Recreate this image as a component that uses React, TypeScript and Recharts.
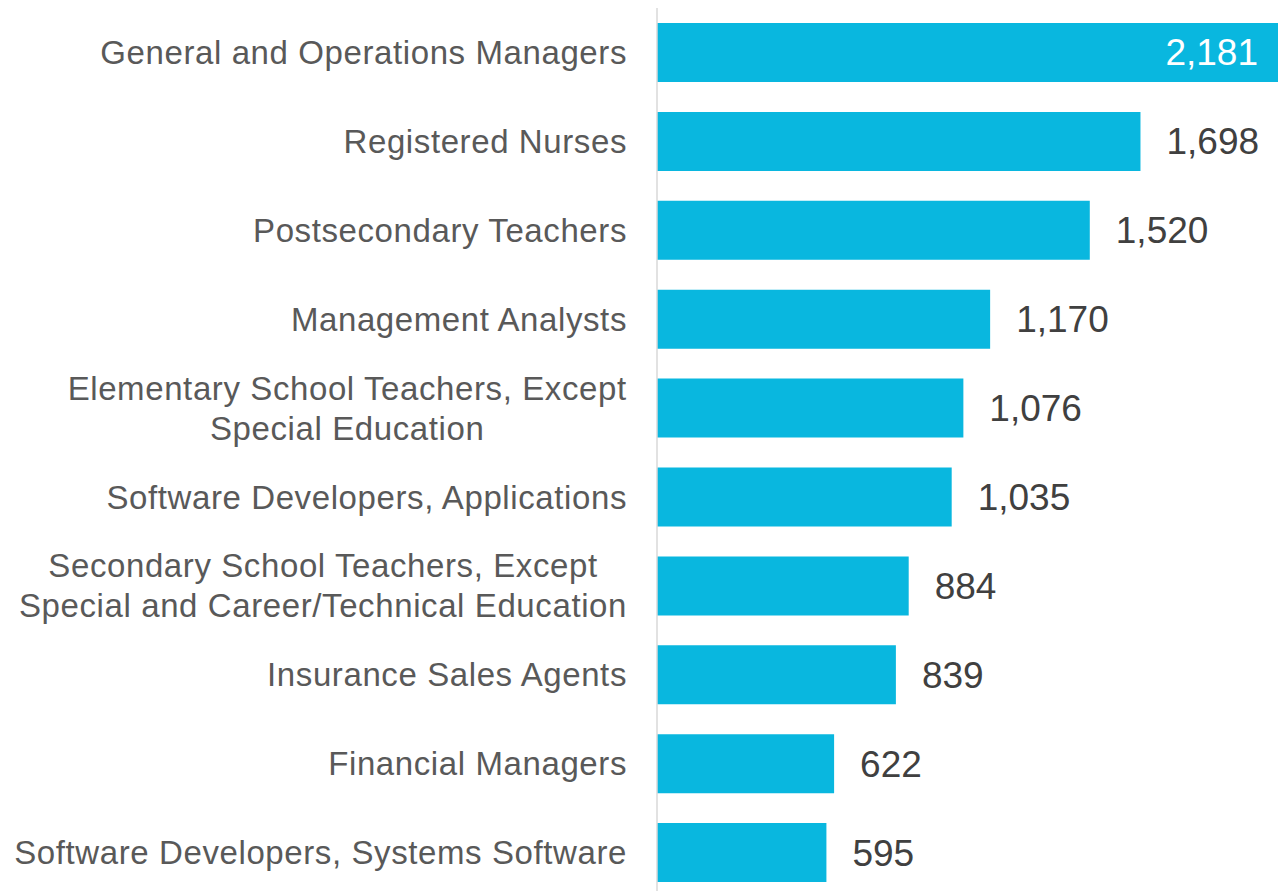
import { BarChart, Bar, XAxis, YAxis, LabelList } from "recharts";

// Occupations, top to bottom ("\n" marks a line break in the axis label)
const occupations = [
  "General and Operations Managers",
  "Registered Nurses",
  "Postsecondary Teachers",
  "Management Analysts",
  "Elementary School Teachers, Except\nSpecial Education",
  "Software Developers, Applications",
  "Secondary School Teachers, Except\nSpecial and Career/Technical Education",
  "Insurance Sales Agents",
  "Financial Managers",
  "Software Developers, Systems Software",
];

const counts = [2181, 1698, 1520, 1170, 1076, 1035, 884, 839, 622, 595];

const data = occupations.map((name, i) => ({ name, count: counts[i] }));

const FONT = "'Liberation Sans', Arial, sans-serif";
const BAR_COLOR = "#09B7DF";
const TICK_SIZE = 33;
const TICK_SPACING = 0.6;

let measureCtx: CanvasRenderingContext2D | null = null;
function textWidth(text: string) {
  if (!measureCtx) measureCtx = document.createElement("canvas").getContext("2d");
  if (!measureCtx) return text.length * TICK_SIZE * 0.5;
  measureCtx.font = `${TICK_SIZE}px ${FONT}`;
  return measureCtx.measureText(text).width + text.length * TICK_SPACING;
}

function CategoryTick(props: any) {
  const { x, y, payload } = props;
  const lines: string[] = String(payload.value).split("\n");
  const common = {
    fill: "#595959",
    fontSize: TICK_SIZE,
    fontFamily: FONT,
    letterSpacing: TICK_SPACING,
  };
  if (lines.length === 1) {
    return (
      <text x={x} y={y} dy="0.35em" textAnchor="end" {...common}>
        {lines[0]}
      </text>
    );
  }
  // multi-line labels: block is right aligned, lines centred inside it
  const w = Math.max(...lines.map((l) => textWidth(l)));
  const cx = x - w / 2;
  const lh = 40;
  const top = y - ((lines.length - 1) * lh) / 2;
  return (
    <text textAnchor="middle" {...common}>
      {lines.map((l, i) => (
        <tspan key={i} x={cx} y={top + i * lh} dy="0.35em">
          {l}
        </tspan>
      ))}
    </text>
  );
}

function ValueLabel(props: any) {
  const { x, y, width, height, value, index } = props;
  const text = Number(value).toLocaleString("en-US");
  const inside = index === 0;
  return (
    <text
      x={inside ? x + width - 20 : x + width + 26}
      y={y + height / 2}
      dy="0.35em"
      textAnchor={inside ? "end" : "start"}
      fill={inside ? "#ffffff" : "#404040"}
      fontSize={37}
      fontFamily={FONT}
    >
      {text}
    </text>
  );
}

export default function App() {
  return (
    <div
      style={{
        position: "absolute",
        left: 0,
        top: 0,
        width: 1283,
        height: 891,
        overflow: "hidden",
        background: "#fff",
      }}
    >
      <BarChart
        width={1283}
        height={897}
        data={data}
        layout="vertical"
        margin={{ top: 8, right: 5, bottom: 0, left: 0 }}
        barSize={59}
      >
        <XAxis type="number" domain={[0, 2181]} hide />
        <YAxis
          type="category"
          dataKey="name"
          width={657}
          tickLine={false}
          tickSize={0}
          tickMargin={30}
          axisLine={{ stroke: "#d9d9d9", strokeWidth: 1.5 }}
          tick={<CategoryTick />}
          interval={0}
        />
        <Bar dataKey="count" fill={BAR_COLOR} isAnimationActive={false}>
          <LabelList dataKey="count" content={<ValueLabel />} />
        </Bar>
      </BarChart>
    </div>
  );
}
